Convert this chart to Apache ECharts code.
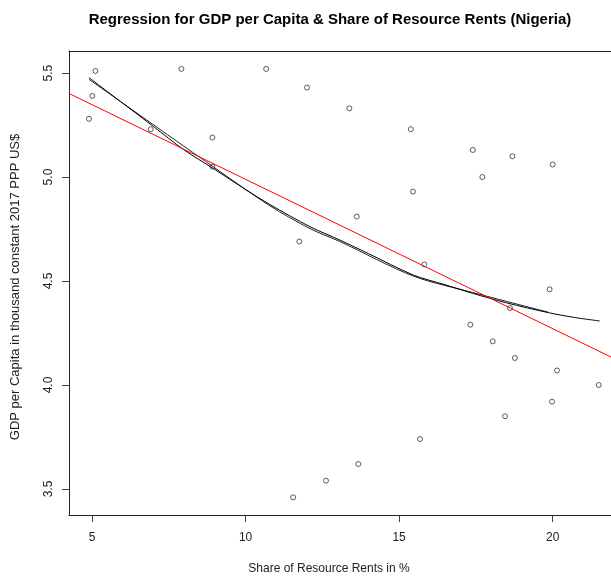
<!DOCTYPE html>
<html>
<head>
<meta charset="utf-8">
<script src="https://cdn.jsdelivr.net/npm/echarts@6/dist/echarts.min.js"></script>
<style>
  html, body { margin: 0; padding: 0; background: #fff; }
  #chart { width: 611px; height: 576px; }
</style>
</head>
<body>
<div id="chart"></div>
<script>
// share of resource rents (%) and GDP per capita (thousand 2017 PPP US$)
var rents = [4.90, 5.01, 5.11, 6.91, 7.91, 8.92, 8.92, 10.67, 12.00, 13.38, 15.38, 17.40, 18.69, 20.00,
             17.71, 15.45, 13.62, 11.75, 15.82, 19.90, 18.61, 17.32, 18.05, 18.77, 20.14, 21.50,
             19.98, 18.45, 15.68, 13.67, 12.62, 11.55];
var gdp = [5.28, 5.39, 5.51, 5.23, 5.52, 5.19, 5.05, 5.52, 5.43, 5.33, 5.23, 5.13, 5.10, 5.06,
           5.00, 4.93, 4.81, 4.69, 4.58, 4.46, 4.37, 4.29, 4.21, 4.13, 4.07, 4.00,
           3.92, 3.85, 3.74, 3.62, 3.54, 3.46];

// smoothed fits (black)
var smoothX = [4.9, 6.0, 7.0, 8.0, 8.94, 10.0, 10.79, 12.1, 13.07, 14.0, 15.46, 16.5, 17.39, 18.5, 19.86, 20.7, 21.53];
var smoothY = [5.478, 5.355, 5.243, 5.13, 5.042, 4.94, 4.868, 4.761, 4.697, 4.632, 4.529, 4.482, 4.441, 4.395, 4.348, 4.325, 4.308];
var smooth2X = [4.9, 8.94, 10.79, 12.1, 13.07, 15.46, 17.39, 19.86];
var smooth2Y = [5.47, 5.05, 4.862, 4.752, 4.69, 4.524, 4.445, 4.35];

// linear fit (red)
var fitIntercept = 5.707;
var fitSlope = -0.0718;

var xTicks = [5, 10, 15, 20];
var yTicks = [3.5, 4.0, 4.5, 5.0, 5.5];

// the plot box runs past the right edge of the picture
var xMin = 4.25, xMax = 21.9;
var yMin = 3.375, yMax = 5.606;

function pairs(xs, ys) {
    return xs.map(function (x, i) { return [x, ys[i]]; });
}

var chart = echarts.init(document.getElementById('chart'));
var font = 'Liberation Sans, Arial, sans-serif';
var boxLine = { show: true, onZero: false, lineStyle: { color: '#222', width: 1 } };

var option = {
    animation: false,
    grid: { left: 69, top: 51, bottom: 61, right: 0 },
    xAxis: [{
        type: 'value',
        min: xMin, max: xMax,
        splitLine: { show: false },
        axisLine: boxLine,
        axisTick: { show: true, length: 7, lineStyle: { color: '#444' }, customValues: xTicks },
        axisLabel: { customValues: xTicks, margin: 17, color: '#222', fontSize: 12, fontFamily: font }
    }, {
        // top edge of the box
        type: 'value', position: 'top',
        min: xMin, max: xMax,
        splitLine: { show: false },
        axisLine: boxLine,
        axisTick: { show: false },
        axisLabel: { show: false }
    }],
    yAxis: {
        type: 'value',
        min: yMin, max: yMax,
        splitLine: { show: false },
        axisLine: boxLine,
        axisTick: { show: true, length: 7, lineStyle: { color: '#444' }, customValues: yTicks },
        axisLabel: {
            customValues: yTicks, rotate: 90, margin: 14, color: '#222', fontSize: 12, fontFamily: font,
            formatter: function (v) { return v.toFixed(1); }
        }
    },
    graphic: [
        { type: 'text', x: 330, y: 12, style: { text: 'Regression for GDP per Capita & Share of Resource Rents (Nigeria)', font: 'bold 15px ' + font, fill: '#000', textAlign: 'center' } },
        { type: 'text', x: 329, y: 563, style: { text: 'Share of Resource Rents in %', font: '12px ' + font, fill: '#222', textAlign: 'center' } },
        { type: 'text', x: 9, y: 287, rotation: Math.PI / 2, style: { text: 'GDP per Capita in thousand constant 2017 PPP US$', font: '13px ' + font, fill: '#222', textAlign: 'center' } }
    ],
    series: [
        {
            type: 'scatter',
            data: pairs(rents, gdp),
            symbol: 'circle',
            symbolSize: 5,
            itemStyle: { color: 'rgba(255,255,255,0)', borderColor: '#333', borderWidth: 1 },
            z: 1
        },
        {
            type: 'line',
            data: pairs(smooth2X, smooth2Y),
            smooth: 0.3, showSymbol: false,
            lineStyle: { color: '#222', width: 1 },
            z: 2
        },
        {
            type: 'line',
            data: pairs(smoothX, smoothY),
            smooth: 0.3, showSymbol: false,
            lineStyle: { color: '#000', width: 1 },
            z: 3
        },
        {
            type: 'line',
            data: [[xMin, fitIntercept + fitSlope * xMin], [xMax, fitIntercept + fitSlope * xMax]],
            showSymbol: false,
            lineStyle: { color: '#ff0000', width: 1 },
            z: 4
        }
    ]
};

chart.setOption(option);
</script>
</body>
</html>
